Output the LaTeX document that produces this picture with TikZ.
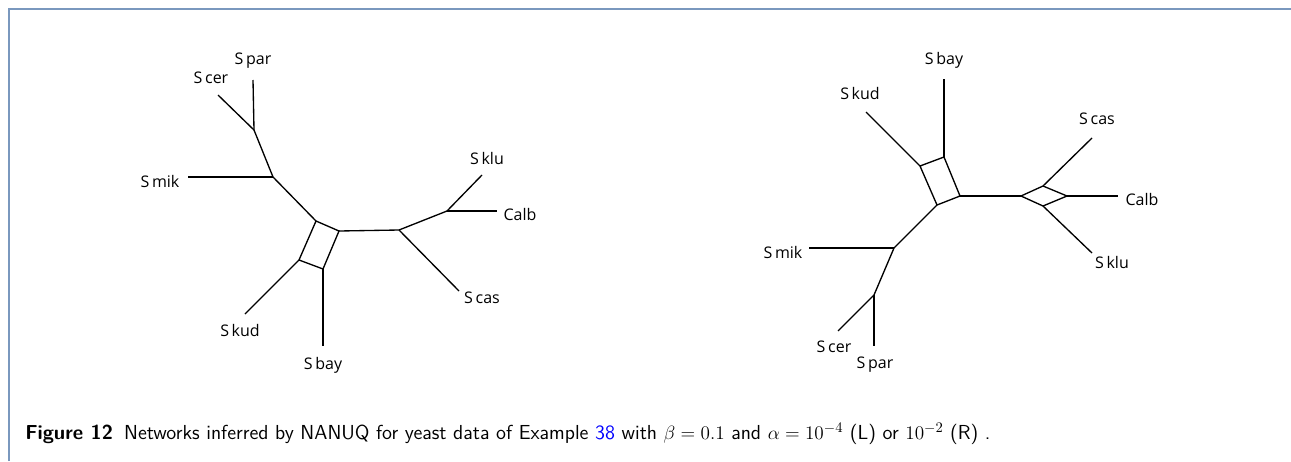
\documentclass[tikz,border=0pt]{standalone}
\usepackage{fontspec}
\newfontfamily\lblfont{Open Sans}
\definecolor{framec}{RGB}{122,152,190}
\definecolor{linkblue}{RGB}{0,0,255}
\tikzset{
  edge/.style={line width=1pt, black},
  lbl/.style={font=\lblfont\fontsize{12}{14}\selectfont, inner sep=0pt},
  frame/.style={line width=1.5pt, framec}
}
\begin{document}
\begin{tikzpicture}[x=0.75pt, y=-0.75pt]
\useasboundingbox (0,0) rectangle (1291,461);
\coordinate (fa) at (9,461);
\coordinate (fb) at (9,9);
\coordinate (fc) at (1291,9);
\draw[frame] (fa) -- (fb) -- (fc);

% ---------- left network ----------
\coordinate (Lpc) at (254,130);
\coordinate (Lm) at (273,177);
\coordinate (Lt) at (316,221);
\coordinate (Lr) at (339,231);
\coordinate (Lb) at (323,269);
\coordinate (Ll) at (299,260);
\coordinate (Lj) at (399,230);
\coordinate (Lk) at (447,211);
\coordinate (Lspar) at (253,80);
\coordinate (Lscer) at (218,95);
\coordinate (Lsmik) at (188,177);
\coordinate (Lsklu) at (482,175);
\coordinate (Lcalb) at (497,211);
\coordinate (Lscas) at (459,291);
\coordinate (Lskud) at (245,314);
\coordinate (Lsbay) at (323,346);
\node[lbl] (tLspar) at (253,61) {S\,par};
\node[lbl] (tLscer) at (211,78) {S\,cer};
\node[lbl] (tLsmik) at (160,181) {S\,mik};
\node[lbl] (tLsklu) at (487,158) {S\,klu};
\node[lbl] (tLcalb) at (520,214) {Calb};
\node[lbl] (tLscas) at (482,298) {S\,cas};
\node[lbl] (tLskud) at (240,330) {S\,kud};
\node[lbl] (tLsbay) at (323,365) {S\,bay};
\draw[edge] (Lspar) -- (Lpc);
\draw[edge] (Lscer) -- (Lpc);
\draw[edge] (Lpc) -- (Lm);
\draw[edge] (Lsmik) -- (Lm);
\draw[edge] (Lm) -- (Lt);
\draw[edge] (Lt) -- (Lr) -- (Lb) -- (Ll) -- cycle;
\draw[edge] (Lr) -- (Lj);
\draw[edge] (Lj) -- (Lk);
\draw[edge] (Lk) -- (Lsklu);
\draw[edge] (Lk) -- (Lcalb);
\draw[edge] (Lj) -- (Lscas);
\draw[edge] (Ll) -- (Lskud);
\draw[edge] (Lb) -- (Lsbay);

% ---------- right network ----------
\coordinate (Rt) at (944,157);
\coordinate (Rl) at (920,166);
\coordinate (Rb) at (937,205);
\coordinate (Rr) at (960,196);
\coordinate (Dl) at (1021,196);
\coordinate (Dt) at (1043,186);
\coordinate (Dr) at (1067,196);
\coordinate (Db) at (1043,206);
\coordinate (Rm) at (894,248);
\coordinate (Rpc) at (874,295);
\coordinate (Rsbay) at (944,79);
\coordinate (Rskud) at (866,112);
\coordinate (Rscas) at (1092,138);
\coordinate (Rcalb) at (1118,196);
\coordinate (Rsklu) at (1092,253);
\coordinate (Rsmik) at (809,248);
\coordinate (Rscer) at (838,331);
\coordinate (Rspar) at (874,346);
\node[lbl] (tRsbay) at (944,60) {S\,bay};
\node[lbl] (tRskud) at (860,93) {S\,kud};
\node[lbl] (tRscas) at (1097,119) {S\,cas};
\node[lbl] (tRcalb) at (1142,199) {Calb};
\node[lbl] (tRsklu) at (1112,262) {S\,klu};
\node[lbl] (tRsmik) at (783,252) {S\,mik};
\node[lbl] (tRscer) at (834,347) {S\,cer};
\node[lbl] (tRspar) at (875,365) {S\,par};
\draw[edge] (Rsbay) -- (Rt);
\draw[edge] (Rskud) -- (Rl);
\draw[edge] (Rt) -- (Rr) -- (Rb) -- (Rl) -- cycle;
\draw[edge] (Rr) -- (Dl);
\draw[edge] (Dl) -- (Dt) -- (Dr) -- (Db) -- cycle;
\draw[edge] (Dt) -- (Rscas);
\draw[edge] (Dr) -- (Rcalb);
\draw[edge] (Db) -- (Rsklu);
\draw[edge] (Rb) -- (Rm);
\draw[edge] (Rsmik) -- (Rm);
\draw[edge] (Rm) -- (Rpc);
\draw[edge] (Rpc) -- (Rscer);
\draw[edge] (Rpc) -- (Rspar);

% ---------- caption ----------
\node[anchor=base west, inner sep=0pt, font=\sffamily\fontsize{15.2}{17}\selectfont] (cap) at (25,439)
 {\textbf{Figure 12}\hspace{0.55em}Networks inferred by NANUQ for yeast data of Example \textcolor{linkblue}{38} with $\beta=0.1$ and $\alpha=10^{-4}$ (L) or $10^{-2}$ (R) .};
\end{tikzpicture}
\end{document}
